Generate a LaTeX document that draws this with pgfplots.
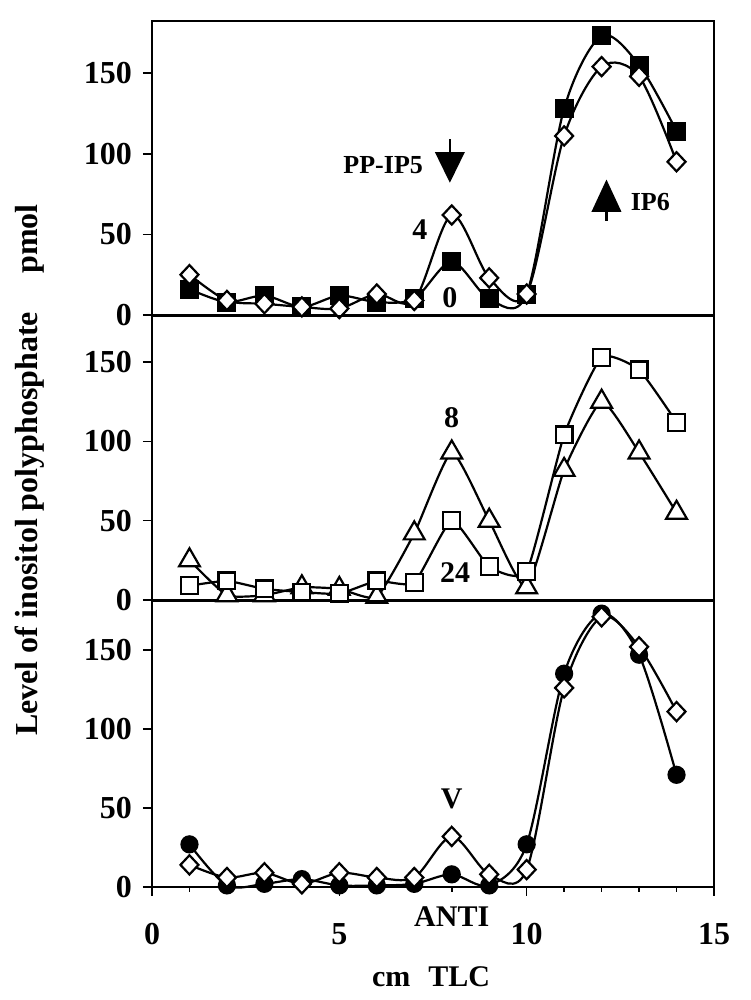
\documentclass[border=0pt]{standalone}
\usepackage{pgfplots}
\pgfplotsset{compat=1.18}
\usepackage{fontspec}
\setmainfont{Liberation Serif}

\tikzset{lbl/.style={font=\bfseries\fontsize{15}{15}\selectfont}}
\pgfplotsset{
  panel/.style={
    scale only axis, width=281pt, xmin=0, xmax=15, ymin=0,
    axis line style={line width=1.4pt},
    ytick={0,50,100,150},
    tick align=outside, ytick pos=left, xtick pos=bottom,
    major tick length=4.5pt, minor tick length=2.5pt,
    tick style={line width=0.8pt, black},
    yticklabel style={font=\bfseries\fontsize{16}{16}\selectfont, xshift=-2pt},
    /pgf/number format/assume math mode=true,
    every axis plot/.append style={line width=1.1pt, black},
    clip=false,
  },
  filledsq/.style={mark=square*, mark size=4.2pt, mark options={solid, fill=black}},
  opensq/.style={mark=square*, mark size=4.2pt, mark options={solid, fill=white}},
  opendia/.style={mark=diamond*, mark size=4.8pt, mark options={solid, fill=white, xscale=1.25}},
  opentri/.style={mark=triangle*, mark size=6pt, mark options={solid, fill=white}},
  filledcirc/.style={mark=*, mark size=4pt, mark options={solid, fill=black}},
}

\begin{document}
\begin{tikzpicture}
\path[use as bounding box] (0,0) rectangle (375pt,500pt);

% top panel: 0 and 4
\begin{axis}[panel, at={(76pt,342.5pt)}, anchor=south west,
  height=147pt, ymax=182.3, xtick=\empty]
  \addplot[smooth, filledsq] coordinates {
    (1,16) (2,8) (3,12) (4,5) (5,12) (6,8) (7,10)
    (8,33) (9,10) (10,13) (11,128) (12,173) (13,155) (14,114)};
  \addplot[smooth, opendia] coordinates {
    (1,25) (2,9) (3,7) (4,5) (5,4) (6,13) (7,9)
    (8,62) (9,23) (10,13) (11,111) (12,154) (13,148) (14,95)};
  \fill (axis cs:7.55,101) -- (axis cs:8.35,101) -- (axis cs:7.95,82) -- cycle;
  \draw[line width=1.2pt] (axis cs:7.95,109) -- (axis cs:7.95,100);
  \node[font=\bfseries\fontsize{13}{13}\selectfont] at (axis cs:6.17,93) {PP-IP5};
  \fill (axis cs:11.73,64) -- (axis cs:12.53,64) -- (axis cs:12.13,84) -- cycle;
  \draw[line width=1.2pt] (axis cs:12.13,65) -- (axis cs:12.13,58);
  \node[font=\bfseries\fontsize{13}{13}\selectfont] at (axis cs:13.3,70) {IP6};
  \node[lbl] at (axis cs:7.15,53) {4};
  \node[lbl] at (axis cs:7.95,10.5) {0};
\end{axis}

% middle panel: 8 and 24
\begin{axis}[panel, at={(76pt,200pt)}, anchor=south west,
  height=142pt, ymax=179, xtick=\empty]
  \addplot[smooth, tension=0.3, opentri] coordinates {
    (1,25) (2,3) (3,3) (4,8) (5,7) (6,2) (7,42)
    (8,93) (9,50) (10,8) (11,82) (12,125) (13,93) (14,55)};
  \addplot[smooth, tension=0.3, opensq] coordinates {
    (1,9) (2,12) (3,7) (4,5) (5,4) (6,12) (7,11)
    (8,50) (9,21) (10,18) (11,104) (12,153) (13,145) (14,112)};
  \node[lbl] at (axis cs:8,115) {8};
  \node[lbl] at (axis cs:8.09,17) {24};
\end{axis}

% bottom panel: ANTI and V
\begin{axis}[panel, at={(76pt,56.5pt)}, anchor=south west,
  height=143pt, ymax=181,
  xtick={0,5,10,15}, minor x tick num=4,
  xticklabel style={font=\bfseries\fontsize{16}{16}\selectfont, yshift=-10pt}]
  \addplot[smooth, filledcirc] coordinates {
    (1,27) (2,1) (3,2) (4,5) (5,1) (6,1) (7,2)
    (8,8) (9,1) (10,27) (11,135) (12,173) (13,147) (14,71)};
  \addplot[smooth, opendia] coordinates {
    (1,14) (2,6) (3,9) (4,2) (5,9) (6,6) (7,6)
    (8,32) (9,8) (10,11) (11,126) (12,171) (13,152) (14,111)};
  \node[lbl] at (axis cs:8,56) {V};
  \node[lbl] at (axis cs:8,-19) {ANTI};
\end{axis}

\node[lbl] at (215.5pt,11.5pt) {cm\hspace{0.6em}TLC};
\node[font=\bfseries\fontsize{16}{16}\selectfont, rotate=90] at (15pt,265pt)
  {Level of inositol polyphosphate\hspace{1.2em}pmol};
\end{tikzpicture}
\end{document}
